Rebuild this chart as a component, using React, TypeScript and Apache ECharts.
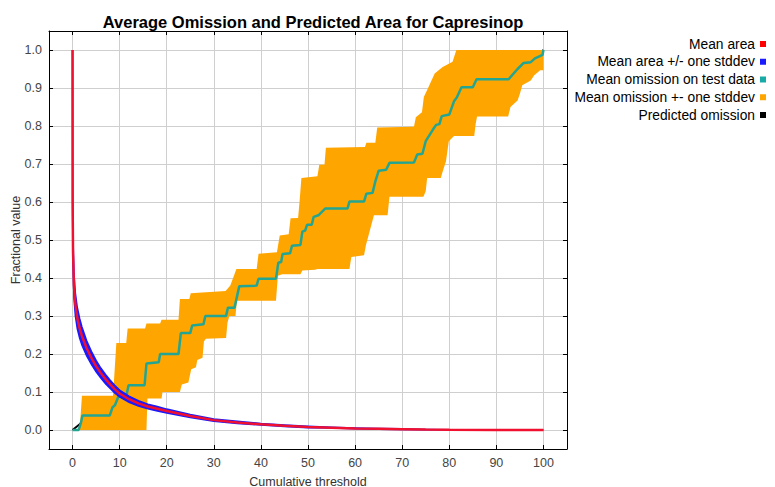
import React, { useEffect, useRef } from "react";
import * as echarts from "echarts";

// Mean fractional predicted area (with its standard deviation) against threshold
const areaX = [0, 0.02, 0.1, 0.3, 0.6, 1, 1.5, 2, 3, 4, 5, 6, 7, 8, 9, 10, 12, 14, 16, 18, 20, 25, 30, 35, 40, 45, 50, 55, 60, 65, 70, 75, 80, 90, 100];
const areaMean = [1.0, 0.6, 0.47, 0.38, 0.33, 0.295, 0.268, 0.247, 0.215, 0.19, 0.168, 0.15, 0.134, 0.12, 0.107, 0.096, 0.081, 0.07, 0.062, 0.056, 0.05, 0.037, 0.026, 0.02, 0.015, 0.011, 0.008, 0.006, 0.004, 0.003, 0.002, 0.001, 0.0005, 0.0002, 0];
const areaSd = [0, 0.035, 0.035, 0.033, 0.03, 0.028, 0.026, 0.024, 0.02, 0.017, 0.015, 0.013, 0.012, 0.011, 0.01, 0.009, 0.008, 0.007, 0.006, 0.006, 0.005, 0.004, 0.003, 0.003, 0.002, 0.002, 0.002, 0.001, 0.001, 0.001, 0.001, 0.0005, 0, 0, 0];

// Mean omission on test data (step curve)
const omitX = [0, 1.3, 1.8, 2.1, 7.9, 8.5, 9.0, 9.7, 11.5, 11.9, 15.3, 15.7, 18.3, 18.6, 22.5, 23.0, 25.0, 25.4, 27.8, 28.2, 32.6, 33.0, 34.4, 35.4, 39.1, 39.5, 43.2, 43.7, 44.3, 44.6, 46.2, 46.6, 48.4, 48.8, 49.4, 49.8, 50.8, 51.2, 52.2, 53.7, 58.4, 58.8, 61.9, 62.4, 63.7, 64.3, 65.0, 66.6, 67.3, 72.5, 73.2, 74.3, 75.0, 75.5, 76.5, 77.2, 77.9, 78.4, 80.0, 81.0, 81.6, 82.6, 85.0, 85.8, 92.6, 94.5, 95.8, 97.3, 98.2, 99.8, 100];
const omitY = [0, 0, 0.02, 0.038, 0.038, 0.06, 0.065, 0.087, 0.095, 0.118, 0.118, 0.175, 0.178, 0.2, 0.2, 0.255, 0.255, 0.275, 0.278, 0.3, 0.3, 0.322, 0.322, 0.378, 0.38, 0.398, 0.398, 0.44, 0.442, 0.463, 0.465, 0.485, 0.487, 0.522, 0.525, 0.54, 0.54, 0.561, 0.565, 0.583, 0.583, 0.601, 0.601, 0.622, 0.624, 0.654, 0.682, 0.685, 0.703, 0.704, 0.725, 0.727, 0.76, 0.77, 0.79, 0.803, 0.805, 0.826, 0.83, 0.865, 0.875, 0.902, 0.902, 0.923, 0.923, 0.95, 0.966, 0.968, 0.978, 0.987, 1.0];

// Upper edge of mean omission + one stddev
const omitUpX = [2.0, 8.6, 9.3, 11.4, 11.7, 15.4, 15.7, 18.6, 18.9, 22.5, 22.8, 24.8, 25.1, 32.5, 33.5, 34.8, 39.1, 39.5, 43.4, 44.0, 45.9, 46.3, 47.9, 48.2, 48.6, 52.0, 52.4, 53.5, 53.8, 62.1, 62.4, 64.3, 64.7, 72.5, 72.9, 74.2, 74.6, 75.5, 76.9, 78.6, 80.7, 81.5, 100];
const omitUpY = [0.09, 0.09, 0.229, 0.229, 0.267, 0.267, 0.28, 0.28, 0.29, 0.29, 0.345, 0.345, 0.36, 0.366, 0.38, 0.424, 0.424, 0.464, 0.468, 0.512, 0.515, 0.557, 0.558, 0.6, 0.663, 0.668, 0.698, 0.698, 0.743, 0.745, 0.756, 0.756, 0.796, 0.798, 0.823, 0.836, 0.876, 0.9, 0.938, 0.955, 0.969, 1.0, 1.0];

// Lower edge of mean omission - one stddev
const omitLoX = [1.5, 15.7, 15.9, 18.9, 19.1, 22.8, 23.2, 24.6, 25.2, 26.2, 26.5, 27.6, 27.9, 28.3, 32.6, 32.9, 33.3, 34.6, 34.9, 43.2, 43.6, 44.5, 48.4, 48.8, 51.5, 52.0, 58.8, 59.2, 61.9, 62.3, 64.0, 66.9, 67.3, 74.5, 75.0, 75.3, 78.2, 78.6, 79.3, 79.9, 81.0, 85.3, 85.6, 85.9, 92.5, 93.0, 94.5, 95.0, 95.5, 97.3, 98.0, 99.3, 100];
const omitLoY = [0, 0, 0.083, 0.083, 0.1, 0.1, 0.12, 0.125, 0.16, 0.165, 0.184, 0.19, 0.233, 0.24, 0.242, 0.282, 0.3, 0.3, 0.34, 0.34, 0.406, 0.41, 0.41, 0.42, 0.422, 0.424, 0.424, 0.455, 0.46, 0.486, 0.565, 0.565, 0.614, 0.614, 0.628, 0.663, 0.663, 0.68, 0.707, 0.76, 0.774, 0.774, 0.805, 0.825, 0.825, 0.85, 0.867, 0.885, 0.907, 0.92, 0.933, 0.947, 0.947];

// Predicted omission (straight line)
const predX = [0, 100];
const predY = [0, 1];

const xTicks = [0, 10, 20, 30, 40, 50, 60, 70, 80, 90, 100];
const yTicks = [0, 0.1, 0.2, 0.3, 0.4, 0.5, 0.6, 0.7, 0.8, 0.9, 1.0];

const pairs = (xs: number[], ys: number[]) => xs.map((x, i) => [x, ys[i]]);

const bandPolygon = (upper: number[][], lower: number[][]) => [...upper, ...lower.slice().reverse()];

const FONT = "'Liberation Sans', Arial, sans-serif";

export default function App() {
  const ref = useRef<HTMLDivElement>(null);

  useEffect(() => {
    if (!ref.current) return;
    const chart = echarts.init(ref.current, null, { renderer: "svg" });

    const omitBand = bandPolygon(pairs(omitUpX, omitUpY), pairs(omitLoX, omitLoY));
    const areaUpper = areaX.map((x, i) => [x, Math.min(1, areaMean[i] + areaSd[i])]);
    const areaLower = areaX.map((x, i) => [x, Math.max(0, areaMean[i] - areaSd[i])]);
    const areaBand = bandPolygon(areaUpper, areaLower);

    const polygonSeries = (name: string, poly: number[][], color: string, z: number, stroke?: string) => ({
      name,
      type: "custom",
      coordinateSystem: "cartesian2d",
      xAxisIndex: 0,
      yAxisIndex: 0,
      z,
      itemStyle: { color },
      data: [[poly[0][0], poly[0][1]]],
      renderItem: (_params: any, api: any) => ({
        type: "polygon",
        shape: { points: poly.map((p) => api.coord(p)) },
        style: { fill: color, stroke: stroke || "none", lineWidth: stroke ? 1.5 : 0 },
      }),
    });

    const axisCommon = {
      type: "value" as const,
      axisLine: { show: true, onZero: false, lineStyle: { color: "#000", width: 1 } },
      axisTick: { show: true, inside: true, length: 4, lineStyle: { color: "#000" } },
    };

    chart.setOption({
      animation: false,
      backgroundColor: "#fff",
      title: {
        text: "Average Omission and Predicted Area for Capresinop",
        left: 308,
        textAlign: "center",
        top: 8,
        textStyle: { fontFamily: FONT, fontWeight: "bold", fontSize: 16.5, color: "#000" },
      },
      legend: {
        orient: "vertical",
        right: 9,
        top: 37,
        padding: 0,
        align: "right",
        icon: "rect",
        itemWidth: 6,
        itemHeight: 6,
        itemGap: 3.75,
        selectedMode: false,
        textStyle: { fontFamily: FONT, fontSize: 13.8, color: "#000", lineHeight: 14 },
        data: ["Mean area", "Mean area +/- one stddev", "Mean omission on test data", "Mean omission +- one stddev", "Predicted omission"],
      },
      grid: { left: 49, right: 208, top: 31, bottom: 38, containLabel: false, outerBoundsMode: "none" },
      xAxis: [
        {
          ...axisCommon,
          position: "bottom",
          min: -5,
          max: 105,
          name: "Cumulative threshold",
          nameLocation: "middle",
          nameGap: 26,
          nameMoveOverlap: false,
          nameTextStyle: { fontFamily: FONT, fontSize: 12.5, color: "#333" },
          axisTick: { ...axisCommon.axisTick, customValues: xTicks },
          axisLabel: { customValues: xTicks, fontFamily: FONT, fontSize: 12.5, color: "#444", margin: 7 },
          splitLine: { show: true, lineStyle: { color: "#cfcfcf", width: 1 } },
        },
        {
          ...axisCommon,
          position: "top",
          min: -5,
          max: 105,
          axisTick: { ...axisCommon.axisTick, customValues: xTicks },
          axisLabel: { show: false },
          splitLine: { show: false },
        },
      ],
      yAxis: [
        {
          ...axisCommon,
          position: "left",
          min: -0.05,
          max: 1.05,
          name: "Fractional value",
          nameLocation: "middle",
          nameGap: 27,
          nameMoveOverlap: false,
          nameTextStyle: { fontFamily: FONT, fontSize: 12.5, color: "#333" },
          axisTick: { ...axisCommon.axisTick, customValues: yTicks },
          axisLabel: {
            customValues: yTicks,
            fontFamily: FONT,
            fontSize: 12.5,
            color: "#444",
            margin: 7,
            formatter: (v: number) => v.toFixed(1),
          },
          splitLine: { show: true, lineStyle: { color: "#cfcfcf", width: 1 } },
        },
        {
          ...axisCommon,
          position: "right",
          min: -0.05,
          max: 1.05,
          axisTick: { ...axisCommon.axisTick, customValues: yTicks },
          axisLabel: { show: false },
          splitLine: { show: false },
        },
      ],
      series: [
        {
          name: "Predicted omission",
          type: "line",
          z: 1,
          color: "#000",
          symbol: "none",
          lineStyle: { color: "#000", width: 2 },
          data: pairs(predX, predY),
        },
        polygonSeries("Mean omission +- one stddev", omitBand, "#ffa500", 2),
        {
          name: "Mean omission on test data",
          type: "line",
          z: 3,
          color: "#17aaa6",
          symbol: "none",
          lineStyle: { color: "#23a592", width: 2.5 },
          data: pairs(omitX, omitY),
        },
        polygonSeries("Mean area +/- one stddev", areaBand, "#1a1aff", 4, "#1a1aff"),
        {
          name: "Mean area",
          type: "line",
          z: 5,
          color: "#ff0000",
          symbol: "none",
          lineStyle: { color: "#f01030", width: 2.5 },
          data: pairs(areaX, areaMean),
        },
      ],
    });

    return () => chart.dispose();
  }, []);

  return <div ref={ref} style={{ position: "fixed", left: 0, top: 0, width: 775, height: 487 }} />;
}
